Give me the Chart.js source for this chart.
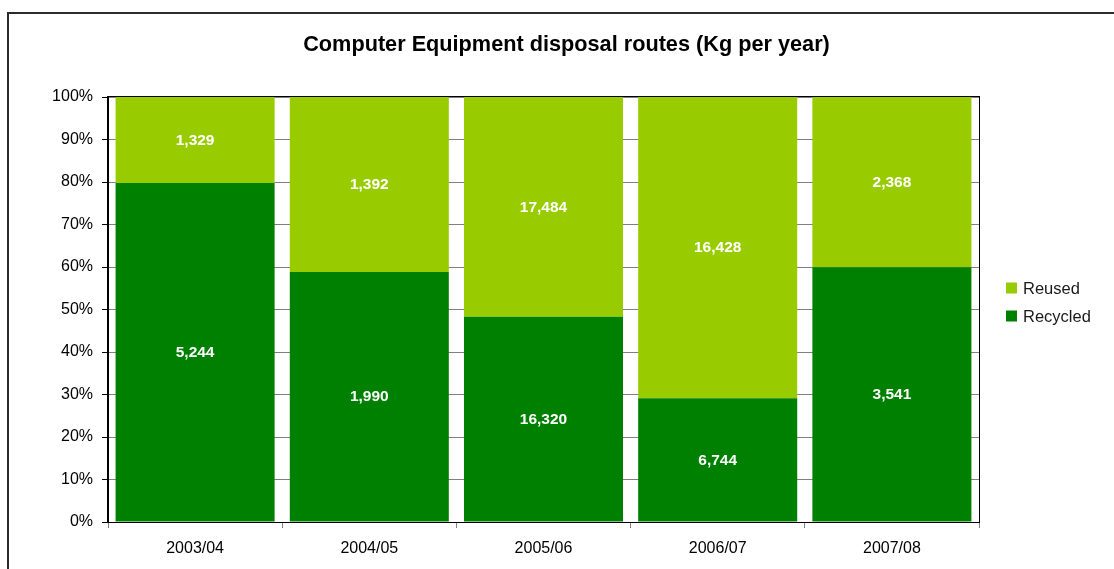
<!DOCTYPE html>
<html>
<head>
<meta charset="utf-8">
<script src="https://cdn.jsdelivr.net/npm/chart.js@4/dist/chart.umd.min.js"></script>
<style>
html,body{margin:0;padding:0;background:#fff;}
#wrap{width:1114px;height:569px;position:relative;}
</style>
</head>
<body>
<div id="wrap"><canvas id="c" width="1114" height="569"></canvas></div>
<script>
const categories = ['2003/04','2004/05','2005/06','2006/07','2007/08'];
const recycled = [5244, 1990, 16320, 6744, 3541];
const reused = [1329, 1392, 17484, 16428, 2368];
const yTicks = [0,10,20,30,40,50,60,70,80,90,100];
const titleText = 'Computer Equipment disposal routes (Kg per year)';

const totals = categories.map((_, i) => recycled[i] + reused[i]);
const pct = arr => arr.map((v, i) => v / totals[i] * 100);
const FONT = 'Liberation Sans, Arial, sans-serif';

const framePlugin = {
  id: 'frame',
  beforeDraw(chart) {
    const ctx = chart.ctx;
    ctx.save();
    ctx.fillStyle = '#fff';
    ctx.fillRect(0, 0, chart.width, chart.height);
    ctx.strokeStyle = '#2b2b2b';
    ctx.lineWidth = 2;
    ctx.strokeRect(8, 13, 1300, 800);
    // title
    ctx.fillStyle = '#000';
    ctx.font = 'bold 21.7px ' + FONT;
    ctx.textAlign = 'center';
    ctx.textBaseline = 'alphabetic';
    ctx.fillText(titleText, 566.5, 51);
    ctx.restore();
  },
  afterDraw(chart) {
    const ctx = chart.ctx;
    const a = chart.chartArea;
    ctx.save();
    ctx.strokeStyle = '#000';
    ctx.lineWidth = 1;
    ctx.strokeRect(Math.round(a.left) - 0.5, Math.round(a.top) - 0.5, Math.round(a.right - a.left) + 1, Math.round(a.bottom - a.top) + 1);
    // value labels
    ctx.fillStyle = '#fff';
    ctx.font = 'bold 15.5px ' + FONT;
    ctx.textAlign = 'center';
    ctx.textBaseline = 'middle';
    chart.data.datasets.forEach((ds, di) => {
      const meta = chart.getDatasetMeta(di);
      meta.data.forEach((bar, i) => {
        const raw = ds.rawValues[i];
        const y = (bar.y + bar.base) / 2;
        ctx.fillText(raw.toLocaleString('en-US'), bar.x, y + 0.5);
      });
    });
    // legend
    const items = [{t: 'Reused', c: '#99CC00', y: 288}, {t: 'Recycled', c: '#008000', y: 316}];
    ctx.font = '16.5px ' + FONT;
    ctx.textAlign = 'left';
    items.forEach(it => {
      ctx.fillStyle = it.c;
      ctx.fillRect(1006, it.y - 5.5, 11, 11);
      ctx.fillStyle = '#1a1a1a';
      ctx.fillText(it.t, 1023, it.y + 1);
    });
    ctx.restore();
  }
};

new Chart(document.getElementById('c'), {
  type: 'bar',
  data: {
    labels: categories,
    datasets: [
      {label: 'Recycled', data: pct(recycled), rawValues: recycled, backgroundColor: '#008000', borderWidth: 0},
      {label: 'Reused', data: pct(reused), rawValues: reused, backgroundColor: '#99CC00', borderWidth: 0}
    ]
  },
  options: {
    responsive: false,
    animation: false,
    devicePixelRatio: 1,
    layout: {padding: {left: 0, right: 135, top: 97, bottom: 0}},
    datasets: {bar: {categoryPercentage: 1, barPercentage: 0.913}},
    plugins: {
      legend: {display: false},
      tooltip: {enabled: false},
      title: {display: false}
    },
    scales: {
      x: {
        stacked: true,
        offset: true,
        afterFit(s) { s.height = 47; },
        grid: {offset: true, drawOnChartArea: false, drawTicks: true, tickLength: 6, color: '#808080'},
        border: {color: '#000'},
        ticks: {color: '#000', padding: 11, font: {family: FONT, size: 16}}
      },
      y: {
        stacked: true,
        min: 0,
        max: 100,
        afterFit(s) { s.width = 108; },
        afterBuildTicks(s) { s.ticks = yTicks.map(v => ({value: v})); },
        grid: {color: '#808080', tickLength: 6, tickColor: '#000'},
        border: {color: '#000'},
        ticks: {color: '#000', padding: 9, font: {family: FONT, size: 16}, callback: v => v + '%'}
      }
    }
  },
  plugins: [framePlugin]
});
</script>
</body>
</html>
